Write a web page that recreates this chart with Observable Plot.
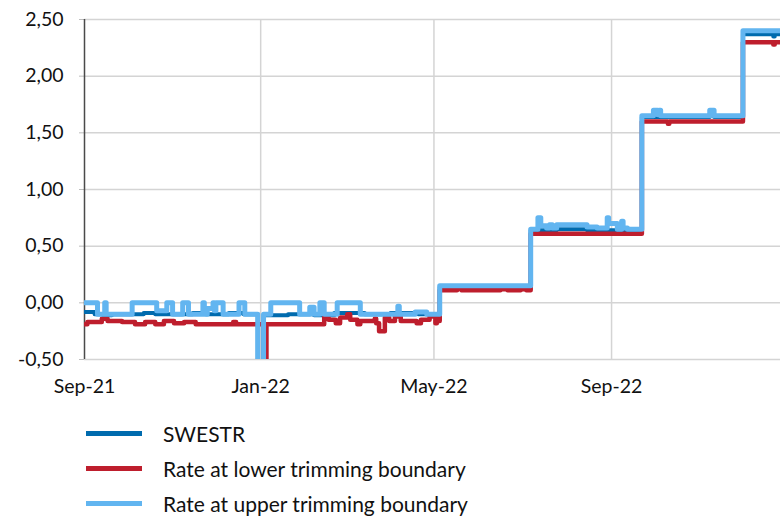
<!DOCTYPE html>
<html>
<head>
<meta charset="utf-8">
<script src="https://cdn.jsdelivr.net/npm/d3@7"></script>
<script src="https://cdn.jsdelivr.net/npm/@observablehq/plot@0.6"></script>
<style>
  body { margin: 0; background: #fff; font-family: Lato, "Open Sans", sans-serif; }
  #chart { width: 780px; }
  .legend { margin-top: 6px; }
  .row { display: flex; align-items: center; height: 35px; font-size: 21px; color: #111; }
  .sw { width: 56px; height: 5px; margin-left: 86px; margin-right: 21px; }
</style>
</head>
<body>
<div id="chart"></div>
<script>
// ---- data (change points; value holds until next date) ----
const seriesNames = ["SWESTR", "Rate at lower trimming boundary", "Rate at upper trimming boundary"];
const seriesColors = ["#006BAE", "#BE1E2D", "#62B5F0"];

const swestrDates = ["2021-09-01","2021-09-08","2021-09-14","2021-09-20","2021-10-12","2021-10-20","2021-11-15","2021-11-24","2021-12-10","2021-12-20","2021-12-30","2022-01-03","2022-01-20","2022-02-07","2022-02-21","2022-03-14","2022-04-01","2022-04-20","2022-05-05","2022-07-07","2022-07-25","2022-08-15","2022-09-22","2022-11-08","2022-11-11","2022-12-01","2022-12-22","2022-12-23","2022-12-30"];
const swestrValues = [-0.08,-0.10,-0.11,-0.10,-0.09,-0.10,-0.09,-0.10,-0.09,-0.10,-0.60,-0.11,-0.10,-0.11,-0.09,-0.10,-0.09,-0.10,0.14,0.64,0.65,0.64,1.64,1.67,1.64,2.37,2.35,2.37,2.37];

const lowerDates = ["2021-09-01","2021-09-03","2021-09-13","2021-09-17","2021-09-27","2021-10-06","2021-10-13","2021-10-20","2021-10-26","2021-11-02","2021-11-09","2021-11-17","2021-12-13","2021-12-15","2022-01-03","2022-01-05","2022-02-14","2022-02-17","2022-02-22","2022-02-25","2022-03-02","2022-03-04","2022-03-09","2022-03-11","2022-03-21","2022-03-22","2022-03-24","2022-03-28","2022-03-31","2022-04-04","2022-04-08","2022-04-19","2022-04-22","2022-04-28","2022-05-02","2022-05-03","2022-05-05","2022-05-10","2022-05-11","2022-05-17","2022-05-20","2022-06-16","2022-06-21","2022-06-30","2022-07-04","2022-07-07","2022-09-22","2022-10-10","2022-10-11","2022-12-01","2022-12-22","2022-12-23","2022-12-30"];
const lowerValues = [-0.19,-0.17,-0.14,-0.16,-0.17,-0.19,-0.17,-0.19,-0.16,-0.18,-0.17,-0.19,-0.17,-0.19,-0.60,-0.19,-0.12,-0.15,-0.18,-0.13,-0.10,-0.15,-0.19,-0.16,-0.14,-0.18,-0.25,-0.13,-0.16,-0.12,-0.16,-0.18,-0.15,-0.12,-0.18,-0.16,0.11,0.13,0.11,0.13,0.11,0.12,0.11,0.12,0.11,0.61,1.60,1.58,1.60,2.30,2.28,2.30,2.30];

const upperDates = ["2021-09-01","2021-09-10","2021-09-15","2021-09-16","2021-10-04","2021-10-21","2021-10-28","2021-11-01","2021-11-08","2021-11-12","2021-11-22","2021-11-23","2021-11-25","2021-11-29","2021-11-30","2021-12-01","2021-12-06","2021-12-17","2021-12-21","2021-12-30","2022-01-03","2022-01-08","2022-01-28","2022-02-04","2022-02-07","2022-02-11","2022-02-14","2022-02-23","2022-03-11","2022-04-06","2022-04-07","2022-04-18","2022-04-26","2022-05-05","2022-07-07","2022-07-12","2022-07-14","2022-07-18","2022-07-20","2022-07-22","2022-07-25","2022-08-15","2022-08-22","2022-08-29","2022-08-30","2022-09-05","2022-09-08","2022-09-09","2022-09-12","2022-09-22","2022-09-30","2022-10-03","2022-10-04","2022-10-05","2022-11-08","2022-11-11","2022-12-01","2022-12-30"];
const upperValues = [0.00,-0.10,0.00,-0.10,0.00,-0.07,0.00,-0.10,0.00,-0.10,0.00,-0.10,-0.05,0.00,-0.07,0.00,-0.10,0.00,-0.10,-0.60,-0.10,0.00,-0.10,-0.04,-0.10,0.00,-0.10,0.00,-0.10,-0.03,-0.10,-0.08,-0.10,0.15,0.65,0.75,0.68,0.66,0.69,0.66,0.69,0.67,0.66,0.75,0.70,0.65,0.72,0.66,0.65,1.65,1.70,1.66,1.70,1.65,1.70,1.65,2.40,2.40];

const yTicks = [-0.5, 0, 0.5, 1, 1.5, 2, 2.5];
const xTickDates = ["2021-09-01", "2022-01-01", "2022-05-01", "2022-09-01"];
const xDomain = ["2021-09-01", "2022-12-27"];

// ---- build tables ----
const toRows = (dates, values, name) => dates.map((d, i) => ({date: new Date(d), value: values[i], series: name}));
const swestr = toRows(swestrDates, swestrValues, seriesNames[0]);
const lower = toRows(lowerDates, lowerValues, seriesNames[1]);
const upper = toRows(upperDates, upperValues, seriesNames[2]);
const xTicks = xTickDates.map(d => new Date(d));
const fmtY = d => d.toFixed(2).replace(".", ",");

const chart = Plot.plot({
  width: 780,
  height: 410,
  marginTop: 19,
  marginBottom: 51,
  marginLeft: 84,
  marginRight: 0,
  style: {fontFamily: "Lato, 'Open Sans', sans-serif", fontSize: "19.5px", color: "#111", background: "#fff", overflow: "visible"},
  x: {type: "utc", domain: xDomain.map(d => new Date(d))},
  y: {domain: [-0.5, 2.5]},
  marks: [
    Plot.gridY(yTicks, {stroke: "#d4d4d4", strokeOpacity: 1, strokeWidth: 1.5}),
    Plot.gridX(xTicks.slice(1), {stroke: "#d4d4d4", strokeOpacity: 1, strokeWidth: 1.5}),
    Plot.axisY(yTicks, {tickFormat: fmtY, tickSize: 5, tickPadding: 16, label: null, stroke: "#bdbdbd", strokeOpacity: 1}),
    Plot.axisX(xTicks, {tickFormat: d3.utcFormat("%b-%y"), tickSize: 0, tickPadding: 20, label: null}),
    Plot.ruleX([xTicks[0]], {stroke: "#4a4a4a", strokeWidth: 1.5}),
    Plot.line(swestr, {x: "date", y: "value", curve: "step-after", stroke: seriesColors[0], strokeWidth: 4, clip: true}),
    Plot.line(lower, {x: "date", y: "value", curve: "step-after", stroke: seriesColors[1], strokeWidth: 4.5, clip: true}),
    Plot.line(upper, {x: "date", y: "value", curve: "step-after", stroke: seriesColors[2], strokeWidth: 5, clip: true})
  ]
});
document.getElementById("chart").appendChild(chart);

const legend = document.createElement("div");
legend.className = "legend";
seriesNames.forEach((n, i) => {
  const row = document.createElement("div");
  row.className = "row";
  const sw = document.createElement("span");
  sw.className = "sw";
  sw.style.background = seriesColors[i];
  const t = document.createElement("span");
  t.textContent = n;
  row.appendChild(sw);
  row.appendChild(t);
  legend.appendChild(row);
});
document.getElementById("chart").appendChild(legend);
</script>
</body>
</html>
